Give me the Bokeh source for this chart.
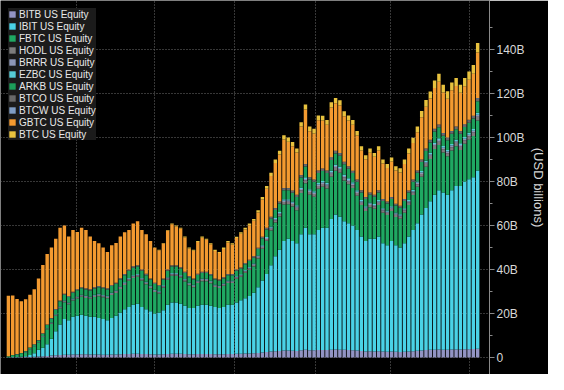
from bokeh.plotting import figure
from bokeh.models import FixedTicker, Range1d, ColumnDataSource
from bokeh.embed import file_html
from bokeh.resources import INLINE

# ---------------- data (USD billions per bar) ----------------
names = ["BITB US Equity", "IBIT US Equity", "FBTC US Equity", "HODL US Equity",
         "BRRR US Equity", "EZBC US Equity", "ARKB US Equity", "BTCO US Equity",
         "BTCW US Equity", "GBTC US Equity", "BTC US Equity"]

bitb = [0.05,0.1,0.15,0.2,0.25,0.3,0.4,0.5,0.6,0.7,
        0.9,1.0,1.2,1.3,1.3,1.4,1.4,1.5,1.5,1.4,
        1.4,1.4,1.3,1.3,1.4,1.4,1.5,1.6,1.6,1.7,
        1.7,1.6,1.6,1.5,1.4,1.4,1.5,1.6,1.7,1.7,
        1.7,1.6,1.5,1.5,1.6,1.6,1.6,1.6,1.5,1.5,
        1.5,1.6,1.6,1.7,1.7,1.8,1.9,2.0,2.1,2.3,
        2.5,2.7,2.9,3.0,3.2,3.2,3.1,3.0,3.3,3.5,
        3.3,3.3,3.4,3.4,3.4,3.6,3.7,3.6,3.5,3.4,
        3.3,3.2,3.0,2.8,2.9,2.8,2.9,2.7,2.6,2.7,
        2.6,2.5,2.6,2.8,2.9,3.1,3.2,3.4,3.5,3.6,
        3.7,3.6,3.6,3.7,3.7,3.7,3.8,3.8,3.9,4.0]

ibit = [0.05,0.1,0.1,0.2,0.35,0.9,1.6,3.0,3.9,5.3,
        7.6,11.0,13.8,16.2,15.7,17.1,17.6,18.0,17.5,17.1,
        17.1,16.6,16.2,15.7,16.6,17.6,19.0,20.4,21.4,22.3,
        22.8,21.4,20.4,19.5,18.6,19.1,20.0,22.4,23.3,23.3,
        22.8,21.9,21.0,21.0,21.9,22.4,22.4,21.9,21.5,21.0,
        21.5,22.4,22.4,23.3,24.3,25.2,26.1,27.5,29.9,32.7,
        35.5,39.3,43.1,46.0,49.8,50.8,49.9,49.0,52.7,55.5,
        52.7,52.7,54.6,55.6,55.6,59.4,61.3,60.4,58.5,57.6,
        56.7,54.8,52.0,50.2,51.1,51.2,52.1,49.3,48.4,50.3,
        48.4,47.5,49.4,52.2,55.1,57.9,61.8,64.6,67.5,70.4,
        72.3,71.4,70.4,72.3,74.3,74.3,76.2,77.2,78.1,81.0]

fbtc = [0.4,0.8,1.0,1.2,1.7,2.5,3.0,3.3,4.9,6.9,
        6.9,7.0,7.4,7.6,7.2,7.4,7.8,8.1,8.1,8.2,
        9.0,9.9,9.9,10.0,10.4,10.4,10.7,11.0,11.9,12.2,
        12.2,12.0,11.3,10.5,9.8,8.6,10.3,11.4,12.2,12.2,
        11.9,11.1,10.4,9.5,10.4,10.7,10.7,10.3,9.1,9.1,
        9.6,9.9,9.9,10.8,10.7,11.6,11.9,11.9,13.0,14.5,
        15.1,15.7,15.4,15.1,16.6,15.7,15.7,15.0,18.8,20.2,
        18.0,17.1,18.7,18.6,17.9,19.2,19.9,20.0,18.5,17.8,
        17.1,15.6,14.3,13.6,14.3,13.6,14.3,13.8,13.8,13.6,
        12.9,13.1,13.8,14.4,15.9,16.6,17.2,18.7,19.3,20.8,
        20.6,18.2,17.5,18.1,18.1,16.4,17.2,18.0,18.7,22.8]

hodl = [0.01,0.02,0.04,0.06,0.08,0.1,0.12,0.14,0.18,0.22,
        0.25,0.3,0.35,0.4,0.4,0.42,0.45,0.47,0.48,0.48,
        0.5,0.5,0.5,0.5,0.52,0.53,0.55,0.57,0.58,0.6,
        0.6,0.58,0.56,0.54,0.5,0.48,0.5,0.55,0.58,0.58,
        0.56,0.54,0.52,0.5,0.52,0.54,0.54,0.53,0.5,0.5,
        0.5,0.52,0.52,0.54,0.56,0.58,0.6,0.62,0.66,0.72,
        0.8,0.88,0.95,1.0,1.1,1.1,1.08,1.05,1.2,1.3,
        1.2,1.2,1.25,1.26,1.25,1.35,1.4,1.38,1.32,1.28,
        1.24,1.18,1.1,1.05,1.08,1.06,1.1,1.02,1.0,1.04,
        1.0,0.98,1.02,1.08,1.15,1.2,1.28,1.35,1.4,1.48,
        1.52,1.46,1.42,1.48,1.5,1.46,1.5,1.54,1.58,1.7]

brrr = [0.01,0.02,0.03,0.04,0.05,0.06,0.07,0.08,0.1,0.12,
        0.15,0.18,0.2,0.22,0.22,0.23,0.24,0.25,0.25,0.25,
        0.26,0.27,0.27,0.27,0.28,0.28,0.29,0.3,0.31,0.32,
        0.32,0.31,0.3,0.29,0.28,0.27,0.28,0.3,0.31,0.31,
        0.3,0.29,0.28,0.28,0.29,0.3,0.3,0.29,0.28,0.28,
        0.28,0.29,0.29,0.3,0.31,0.32,0.33,0.34,0.36,0.4,
        0.44,0.48,0.52,0.55,0.6,0.6,0.59,0.57,0.64,0.7,
        0.65,0.64,0.67,0.68,0.67,0.72,0.74,0.73,0.7,0.68,
        0.66,0.62,0.58,0.55,0.57,0.56,0.58,0.54,0.53,0.55,
        0.53,0.52,0.54,0.57,0.6,0.63,0.67,0.7,0.73,0.76,
        0.78,0.75,0.73,0.76,0.77,0.75,0.77,0.79,0.81,0.86]

ezbc = [0.01,0.02,0.03,0.04,0.05,0.06,0.07,0.09,0.11,0.13,
        0.16,0.19,0.21,0.23,0.23,0.24,0.25,0.26,0.26,0.26,
        0.27,0.28,0.28,0.28,0.29,0.29,0.3,0.31,0.32,0.33,
        0.33,0.32,0.31,0.3,0.29,0.28,0.29,0.31,0.32,0.32,
        0.31,0.3,0.29,0.29,0.3,0.31,0.31,0.3,0.29,0.29,
        0.29,0.3,0.3,0.31,0.32,0.33,0.34,0.35,0.37,0.41,
        0.45,0.49,0.53,0.56,0.61,0.61,0.6,0.58,0.65,0.71,
        0.66,0.65,0.68,0.69,0.68,0.73,0.75,0.74,0.71,0.69,
        0.67,0.63,0.59,0.56,0.58,0.57,0.59,0.55,0.54,0.56,
        0.54,0.53,0.55,0.58,0.61,0.64,0.68,0.71,0.74,0.77,
        0.79,0.76,0.74,0.77,0.78,0.76,0.78,0.8,0.82,0.87]

arkb = [0.05,0.1,0.2,0.3,0.4,0.5,0.6,0.7,1.0,1.4,
        1.7,2.0,2.4,2.6,2.5,2.7,2.8,2.9,2.9,2.8,
        2.9,3.0,3.0,2.9,3.0,3.0,3.1,3.2,3.3,3.4,
        3.4,3.2,3.0,2.8,2.6,2.4,2.6,2.9,3.0,3.0,
        2.9,2.7,2.5,2.4,2.5,2.6,2.6,2.5,2.3,2.3,
        2.3,2.4,2.4,2.5,2.5,2.6,2.7,2.7,2.9,3.2,
        3.4,3.6,3.7,3.8,4.1,4.0,4.0,3.8,4.6,4.9,
        4.4,4.3,4.6,4.6,4.4,4.8,5.0,4.9,4.6,4.4,
        4.2,3.9,3.5,3.3,3.5,3.3,3.5,3.2,3.2,3.3,
        3.1,3.0,3.2,3.4,3.7,3.9,4.1,4.4,4.6,4.9,
        5.0,4.6,4.4,4.6,4.6,4.4,4.5,4.6,4.7,5.3]

btco = [0.02,0.03,0.05,0.07,0.09,0.11,0.13,0.15,0.2,0.24,
        0.28,0.33,0.38,0.42,0.41,0.43,0.45,0.47,0.47,0.46,
        0.47,0.48,0.48,0.47,0.48,0.49,0.5,0.52,0.53,0.55,
        0.55,0.53,0.51,0.49,0.46,0.44,0.46,0.5,0.52,0.52,
        0.51,0.49,0.47,0.46,0.47,0.49,0.49,0.48,0.46,0.46,
        0.46,0.47,0.47,0.49,0.5,0.52,0.54,0.56,0.6,0.65,
        0.7,0.76,0.8,0.84,0.9,0.9,0.88,0.86,0.96,1.02,
        0.95,0.94,0.98,0.99,0.97,1.04,1.07,1.06,1.02,0.99,
        0.96,0.91,0.85,0.81,0.83,0.82,0.85,0.79,0.78,0.8,
        0.77,0.76,0.79,0.83,0.88,0.92,0.97,1.02,1.05,1.1,
        1.13,1.09,1.06,1.1,1.11,1.09,1.11,1.14,1.17,1.25]

btcw = [0.0,0.01,0.01,0.01,0.01,0.02,0.02,0.02,0.03,0.03,
        0.04,0.04,0.05,0.05,0.05,0.05,0.05,0.06,0.06,0.06,
        0.06,0.06,0.06,0.06,0.06,0.06,0.07,0.07,0.07,0.07,
        0.07,0.07,0.07,0.06,0.06,0.06,0.06,0.07,0.07,0.07,
        0.07,0.07,0.06,0.06,0.06,0.07,0.07,0.07,0.06,0.06,
        0.06,0.07,0.07,0.07,0.07,0.07,0.08,0.08,0.08,0.09,
        0.1,0.11,0.12,0.12,0.13,0.13,0.13,0.12,0.14,0.15,
        0.14,0.14,0.15,0.15,0.15,0.16,0.16,0.16,0.15,0.15,
        0.14,0.14,0.13,0.12,0.12,0.12,0.13,0.12,0.12,0.12,
        0.12,0.12,0.12,0.13,0.13,0.14,0.15,0.15,0.16,0.17,
        0.17,0.16,0.16,0.17,0.17,0.16,0.17,0.17,0.18,0.19]

gbtc = [27.5,27.0,25.0,23.5,23.5,24.0,25.0,28.0,31.0,32.0,
        32.0,32.0,33.0,31.0,27.0,28.0,26.0,27.0,26.5,24.0,
        21.0,19.5,18.0,16.5,18.0,18.0,19.0,19.0,18.0,19.5,
        20.0,18.0,18.0,17.0,15.9,15.8,15.8,17.7,18.6,17.6,
        17.6,15.6,12.6,12.6,14.5,15.5,14.5,13.5,12.5,12.0,
        12.9,14.4,13.4,14.3,15.3,15.2,15.7,16.1,16.0,16.9,
        17.7,18.5,20.4,21.3,22.1,21.1,20.1,19.2,22.0,24.8,
        20.9,20.9,22.8,21.8,20.8,22.7,21.6,21.6,20.7,20.8,
        20.9,20.0,18.1,17.2,18.1,17.2,18.1,16.2,15.2,16.1,
        15.1,15.1,16.0,16.8,16.6,17.4,19.2,19.0,18.8,18.6,
        19.4,18.5,17.6,18.5,18.4,17.4,17.3,18.2,19.1,20.7]

btc = [0,0,0,0,0,0,0,0,0,0,
       0,0,0,0,0,0,0,0,0,0,
       0,0,0,0,0,0,0,0,0,0,
       0,0,0,0,0.15,0.2,0.25,0.3,0.35,0.4,
       0.4,0.4,0.4,0.4,0.45,0.5,0.5,0.5,0.5,0.5,
       0.6,0.6,0.6,0.65,0.7,0.75,0.8,0.85,0.95,1.1,
       1.3,1.5,1.6,1.7,1.9,1.9,1.9,1.8,2.0,2.2,
       2.1,2.1,2.2,2.2,2.2,2.3,2.4,2.4,2.3,2.2,
       2.1,2.0,1.9,1.8,1.9,1.8,1.9,1.8,1.8,1.9,
       1.9,1.9,2.0,2.2,2.4,2.6,2.8,3.0,3.2,3.4,
       3.6,3.5,3.4,3.5,3.6,3.6,3.7,3.8,3.9,4.3]

colors = ["#9294c4", "#4ad2e6", "#1fa862", "#7d7d7d", "#8d97b6", "#56ccd6",
          "#1c9f5a", "#696969", "#7f9dc4", "#f39a30", "#e8c23e"]

y_ticks = [0, 20, 40, 60, 80, 100, 120, 140]
y_labels = ["0", "20B", "40B", "60B", "80B", "100B", "120B", "140B"]
x_grid = [15.8, 33.9, 52.5, 71.3, 88.7, 107.0]

keys = ["bitb", "ibit", "fbtc", "hodl", "brrr", "ezbc", "arkb", "btco", "btcw", "gbtc", "btc"]
series = [bitb, ibit, fbtc, hodl, brrr, ezbc, arkb, btco, btcw, gbtc, btc]
data = {k: v for k, v in zip(keys, series)}
data["x"] = list(range(len(bitb)))
source = ColumnDataSource(data)

p = figure(width=548, height=374, output_backend="svg", toolbar_location=None,
           x_range=Range1d(-1.84, 111.75), y_range=Range1d(-7.7, 162.3),
           y_axis_location="right", min_border=0)
p.background_fill_color = "black"
p.border_fill_color = "black"
p.outline_line_color = None

p.vbar_stack(keys, x="x", width=0.8, source=source, fill_color=colors,
             line_color=None, legend_label=names)

p.xaxis.visible = False

ax = p.yaxis[0]
ax.ticker = FixedTicker(ticks=y_ticks, minor_ticks=[v + 10 for v in y_ticks])
ax.major_label_overrides = {t: l for t, l in zip(y_ticks, y_labels)}
ax.axis_label = "(USD billions)"
ax.axis_label_text_font = "Liberation Sans"
ax.axis_label_text_font_size = "13px"
ax.axis_label_text_font_style = "normal"
ax.axis_label_text_color = "#d8d8d8"
ax.axis_label_standoff = 3
ax.major_label_text_font = "Liberation Sans"
ax.major_label_text_font_size = "12px"
ax.major_label_text_color = "#d8d8d8"
ax.major_label_standoff = 2
ax.axis_line_color = "#8a8a8a"
ax.major_tick_line_color = "#8a8a8a"
ax.minor_tick_line_color = "#8a8a8a"
ax.major_tick_in = 0
ax.major_tick_out = 5
ax.minor_tick_in = 0
ax.minor_tick_out = 3

p.xgrid.ticker = FixedTicker(ticks=x_grid)
for g in (p.xgrid, p.ygrid):
    g.grid_line_color = "#6e6e6e"
    g.grid_line_dash = "1 2"
    g.grid_line_width = 1
p.ygrid.ticker = FixedTicker(ticks=y_ticks)

lg = p.legend[0]
lg.location = "top_left"
lg.margin = 8
lg.padding = 3
lg.spacing = 0
lg.label_height = 12
lg.glyph_height = 8
lg.glyph_width = 8
lg.label_standoff = 3
lg.label_text_font = "Liberation Sans"
lg.label_text_font_size = "10px"
lg.label_text_color = "#e8e8e8"
lg.background_fill_color = "#1b1b1b"
lg.background_fill_alpha = 1.0
lg.border_line_color = None

open("out.html", "w").write(file_html(p, INLINE))
